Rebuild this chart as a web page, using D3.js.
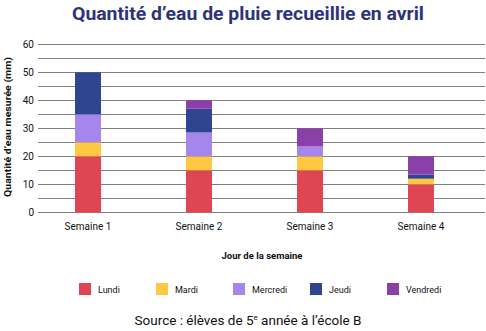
<!DOCTYPE html>
<html><head><meta charset="utf-8">
<script src="https://cdn.jsdelivr.net/npm/d3@7"></script>
<style>body{margin:0;background:#fff;} svg{display:block;font-family:Roboto, "DejaVu Sans", sans-serif;}</style>
</head><body>
<svg id="chart" width="486" height="331"></svg>
<script>
const categories = ["Semaine 1", "Semaine 2", "Semaine 3", "Semaine 4"];
const days = ["Lundi", "Mardi", "Mercredi", "Jeudi", "Vendredi"];
const lundi    = [20, 15, 15, 10];
const mardi    = [5, 5, 5, 2];
const mercredi = [10, 8.5, 3.5, 0];
const jeudi    = [15, 8.5, 0, 1.5];
const vendredi = [0, 3, 6.5, 6.5];
const colors = ["#e04553", "#fec842", "#a586ec", "#2f4590", "#8b3fa8"];
const yTicks = [0, 10, 20, 30, 40, 50, 60];
const gridTicks = [0, 5, 10, 15, 20, 25, 30, 35, 40, 45, 50, 55, 60];

const series = [lundi, mardi, mercredi, jeudi, vendredi];
const table = categories.map((c, i) => {
  const o = {cat: c};
  days.forEach((d, k) => o[d] = series[k][i]);
  return o;
});
const stacked = d3.stack().keys(days)(table);

const svg = d3.select("#chart");
const x = d3.scaleBand().domain(categories).range([32.5, 476.5]).paddingInner(0.766).paddingOuter(0.383);
const y = d3.scaleLinear().domain([0, 60]).range([212.3, 44.3]);

// title
svg.append("text").attr("x", 248).attr("y", 20).attr("text-anchor", "middle")
  .attr("font-size", 18).attr("font-weight", "bold").attr("fill", "#2e3379")
  .attr("textLength", 352).attr("lengthAdjust", "spacingAndGlyphs")
  .text("Quantité d’eau de pluie recueillie en avril");

// grid
svg.append("g").selectAll("line").data(gridTicks).join("line")
  .attr("x1", 38).attr("x2", 485)
  .attr("y1", d => Math.round(y(d)) + 0.5).attr("y2", d => Math.round(y(d)) + 0.5)
  .attr("stroke", "#808080").attr("stroke-width", 1);

// y axis labels
const yAxis = d3.axisLeft(y).tickValues(yTicks).tickSize(0).tickPadding(4);
const gy = svg.append("g").attr("transform", "translate(38,0)").call(yAxis);
gy.select(".domain").remove();
gy.selectAll("text").attr("font-size", 10).attr("fill", "#111").attr("font-family", "Roboto");

// bars
svg.append("g").selectAll("g").data(stacked).join("g")
  .attr("fill", (d, i) => colors[i])
  .selectAll("rect").data(d => d).join("rect")
  .attr("x", d => x(d.data.cat))
  .attr("width", x.bandwidth())
  .attr("y", d => y(d[1]))
  .attr("height", d => y(d[0]) - y(d[1]));

// x axis labels
const xAxis = d3.axisBottom(x).tickSize(0).tickPadding(10);
const gx = svg.append("g").attr("transform", "translate(0,213)").call(xAxis);
gx.select(".domain").remove();
gx.selectAll("text").attr("font-size", 10).attr("fill", "#111").attr("font-family", "Roboto");

// axis titles
svg.append("text").attr("x", 262).attr("y", 259).attr("text-anchor", "middle")
  .attr("font-size", 9.5).attr("font-weight", "bold").attr("fill", "#111")
  .text("Jour de la semaine");
svg.append("text").attr("transform", "translate(11,127) rotate(-90)").attr("text-anchor", "middle")
  .attr("font-size", 9).attr("font-weight", "bold").attr("fill", "#111")
  .attr("textLength", 140).attr("lengthAdjust", "spacingAndGlyphs")
  .text("Quantité d’eau mesurée (mm)");

// legend
const lg = svg.append("g").selectAll("g").data(days).join("g")
  .attr("transform", (d, i) => `translate(${79 + i * 77},283)`);
lg.append("rect").attr("width", 12).attr("height", 12).attr("fill", (d, i) => colors[i]);
lg.append("text").attr("x", 19).attr("y", 9.5).attr("font-size", 9).attr("fill", "#111").text(d => d);

// source
const src = svg.append("text").attr("x", 248).attr("y", 325).attr("text-anchor", "middle")
  .attr("font-size", 13.5).attr("fill", "#111");
src.append("tspan").text("Source : élèves de 5");
src.append("tspan").attr("font-size", 8).attr("dy", -5).text("e");
src.append("tspan").attr("dy", 5).text(" année à l’école B");
</script>
</body></html>
